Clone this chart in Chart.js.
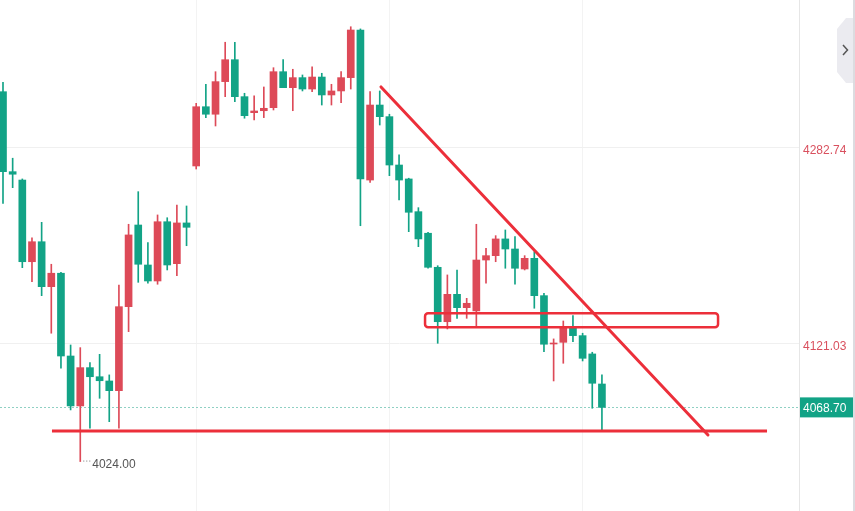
<!DOCTYPE html>
<html>
<head>
<meta charset="utf-8">
<script src="https://cdn.jsdelivr.net/npm/chart.js@4.4.1/dist/chart.umd.min.js"></script>
<style>
html, body { margin: 0; padding: 0; background: #fff; }
#wrap { width: 855px; height: 511px; position: relative; }
</style>
</head>
<body>
<div id="wrap"><canvas id="kline" width="855" height="511"></canvas></div>
<script>
// candle values (index 0 = leftmost candle)
const opens = [4329.2,4263.2,4256.3,4188.9,4205.4,4168.3,4179.4,4111.1,4069.9,4101.5,
  4094.0,4090.5,4082.5,4151.8,4219.2,4186.2,4173.0,4221.9,4187.3,4220.9,
  4267.9,4316.8,4310.6,4337.5,4355.6,4325.1,4311.9,4313.5,4316.0,4345.7,
  4332.5,4340.8,4331.4,4341.3,4326.5,4329.8,4340.8,4380.1,4256.3,4318.2,
  4308.6,4268.7,4257.2,4230.2,4212.4,4184.3,4139.4,4162.0,4151.0,4148.3,
  4190.3,4193.9,4207.7,4199.4,4182.9,4191.7,4160.9,4121.0,4122.4,4134.5,
  4127.9,4112.8,4088.0];
const highs = [4337.0,4274.3,4257.2,4208.7,4221.4,4186.8,4180.2,4120.2,4118.0,4105.6,
  4112.5,4095.5,4169.7,4219.8,4246.7,4204.6,4227.5,4225.2,4235.7,4234.9,
  4319.6,4335.3,4345.7,4370.0,4370.0,4327.9,4325.7,4333.1,4349.0,4355.6,
  4347.7,4343.0,4349.8,4344.4,4335.3,4345.7,4382.8,4381.0,4329.2,4329.8,
  4310.6,4277.0,4257.8,4233.5,4213.2,4185.6,4178.0,4182.1,4158.7,4219.8,
  4200.0,4210.4,4215.1,4209.6,4193.9,4197.2,4162.9,4125.2,4140.0,4144.4,
  4129.9,4114.2,4095.5];
const lows = [4237.1,4250.0,4184.0,4172.4,4160.9,4129.9,4101.0,4066.6,4024.0,4051.5,
  4076.2,4056.9,4051.5,4131.2,4171.9,4171.1,4170.3,4182.1,4177.4,4202.1,
  4265.4,4307.8,4300.9,4325.1,4321.0,4307.3,4305.9,4307.8,4314.1,4332.5,
  4313.5,4329.8,4329.2,4318.2,4318.2,4320.1,4331.4,4218.6,4254.4,4301.7,
  4259.9,4239.8,4213.7,4201.3,4183.5,4121.6,4133.4,4142.2,4142.2,4135.3,
  4171.1,4188.9,4183.5,4170.3,4182.1,4150.5,4114.7,4090.5,4105.1,4122.9,
  4107.0,4068.0,4050.1];
const closes = [4263.2,4261.1,4188.9,4205.4,4168.3,4179.4,4111.1,4069.9,4101.5,4094.0,
  4090.7,4082.5,4151.8,4211.0,4186.8,4173.0,4221.9,4186.2,4220.9,4217.3,
  4316.8,4310.6,4337.5,4355.6,4325.1,4309.4,4313.3,4315.5,4345.7,4332.5,
  4340.8,4331.4,4341.3,4326.5,4329.8,4340.8,4380.1,4257.2,4318.2,4308.6,
  4268.7,4256.3,4229.7,4207.7,4184.3,4139.4,4162.0,4151.0,4154.6,4190.3,
  4193.9,4207.7,4199.4,4183.5,4191.7,4160.9,4120.8,4121.6,4135.3,4127.9,
  4109.2,4088.6,4068.7];

const yTicks = [4121.03, 4282.74];
const lastPrice = 4068.70;
const lowPrice = 4024.00;
const lowIndex = 8;

// hand-drawn marks, in chart coordinates (candle index, price)
const trendX = [39.13, 72.98];
const trendY = [4333.1, 4045.9];
const supportX = [5.07, 79.09];
const supportY = [4049.2, 4049.2];
const zoneX = [43.69, 74.02];
const zoneY = [4134.8, 4146.4];

const upColor = '#dd4a58';
const downColor = '#12a386';
const markRed = '#ec2f3a';

const idx = opens.map((_, i) => i);
const candleColors = idx.map(i => closes[i] >= opens[i] ? upColor : downColor);
const wickData = idx.map(i => ({x: i, y: [lows[i], highs[i]]}));
const bodyData = idx.map(i => ({x: i, y: [Math.min(opens[i], closes[i]), Math.max(opens[i], closes[i])]}));

const extras = {
  id: 'extras',
  beforeDatasetsDraw(chart) {
    const {ctx, chartArea, scales: {y}} = chart;
    const py = Math.round(y.getPixelForValue(lastPrice)) + 0.5;
    ctx.save();
    ctx.strokeStyle = '#8fd0c3';
    ctx.lineWidth = 1;
    ctx.setLineDash([2, 2]);
    ctx.beginPath();
    ctx.moveTo(chartArea.left, py);
    ctx.lineTo(chartArea.right, py);
    ctx.stroke();
    ctx.restore();
  },
  afterDatasetsDraw(chart) {
    const {ctx, chartArea, scales: {x, y}} = chart;
    ctx.save();

    // zone box
    const x0 = x.getPixelForValue(zoneX[0]), x1 = x.getPixelForValue(zoneX[1]);
    const y0 = y.getPixelForValue(zoneY[1]), y1 = y.getPixelForValue(zoneY[0]);
    ctx.strokeStyle = markRed;
    ctx.lineWidth = 2.5;
    ctx.beginPath();
    ctx.roundRect(x0, y0, x1 - x0, y1 - y0, 3);
    ctx.stroke();

    // low marker
    const lx = x.getPixelForValue(lowIndex);
    const ly = y.getPixelForValue(lowPrice);
    ctx.fillStyle = '#777';
    for (let k = 0; k < 3; k++) ctx.fillRect(lx + 3 + k * 3, ly - 1, 1, 1);
    ctx.fillStyle = '#555';
    ctx.font = '12px "Liberation Sans", Arial, sans-serif';
    ctx.textBaseline = 'middle';
    ctx.fillText(lowPrice.toFixed(2), lx + 12, ly + 3);

    // last price tag
    const py = y.getPixelForValue(lastPrice);
    ctx.fillStyle = downColor;
    ctx.fillRect(chartArea.right + 1, py - 10, 53, 20);
    ctx.fillStyle = '#fff';
    ctx.fillText(lastPrice.toFixed(2), chartArea.right + 4, py + 1);

    // side tab
    ctx.fillStyle = '#ebebf0';
    ctx.beginPath();
    ctx.moveTo(855, 18);
    ctx.lineTo(846, 18);
    ctx.lineTo(837, 29);
    ctx.lineTo(837, 72);
    ctx.lineTo(846, 83);
    ctx.lineTo(855, 83);
    ctx.closePath();
    ctx.fill();
    ctx.strokeStyle = '#555';
    ctx.lineWidth = 1.5;
    ctx.beginPath();
    ctx.moveTo(843, 45);
    ctx.lineTo(847.5, 50);
    ctx.lineTo(843, 55);
    ctx.stroke();
    ctx.fillStyle = '#dcdce0';
    ctx.fillRect(853, 0, 2, 511);
    ctx.restore();
  }
};

new Chart(document.getElementById('kline'), {
  type: 'bar',
  data: {
    datasets: [
      {
        type: 'line', data: trendX.map((v, i) => ({x: v, y: trendY[i]})),
        borderColor: markRed, borderWidth: 3, pointRadius: 0, borderCapStyle: 'round', order: 0
      },
      {
        type: 'line', data: supportX.map((v, i) => ({x: v, y: supportY[i]})),
        borderColor: markRed, borderWidth: 3, pointRadius: 0, order: 0
      },
      {
        data: bodyData, backgroundColor: candleColors, barThickness: 7,
        minBarLength: 1, grouped: false, order: 1
      },
      {
        data: wickData, backgroundColor: candleColors, barThickness: 1,
        grouped: false, order: 2
      }
    ]
  },
  options: {
    responsive: false,
    animation: false,
    layout: { padding: 0, autoPadding: false },
    plugins: { legend: { display: false }, tooltip: { enabled: false } },
    scales: {
      x: {
        type: 'linear', min: -0.31, max: 82.4, offset: false,
        afterBuildTicks: s => { s.ticks = [20, 40, 60].map(v => ({value: v})); },
        ticks: { display: false },
        grid: { color: '#f3f3f3', drawTicks: false, offset: false },
        border: { display: false }
      },
      y: {
        position: 'right', min: 3983.2, max: 4404.86,
        afterBuildTicks: s => { s.ticks = yTicks.map(v => ({value: v})); },
        afterFit: s => { s.width = 56; s.paddingTop = 0; s.paddingBottom = 0; },
        ticks: {
          color: '#d9505e', padding: 4, labelOffset: 3,
          font: { size: 12, family: '"Liberation Sans", Arial, sans-serif' },
          callback: v => v.toFixed(2)
        },
        grid: { color: '#f0f0f0', drawTicks: false },
        border: { color: '#e6e6e6' }
      }
    }
  },
  plugins: [extras]
});
</script>
</body>
</html>
